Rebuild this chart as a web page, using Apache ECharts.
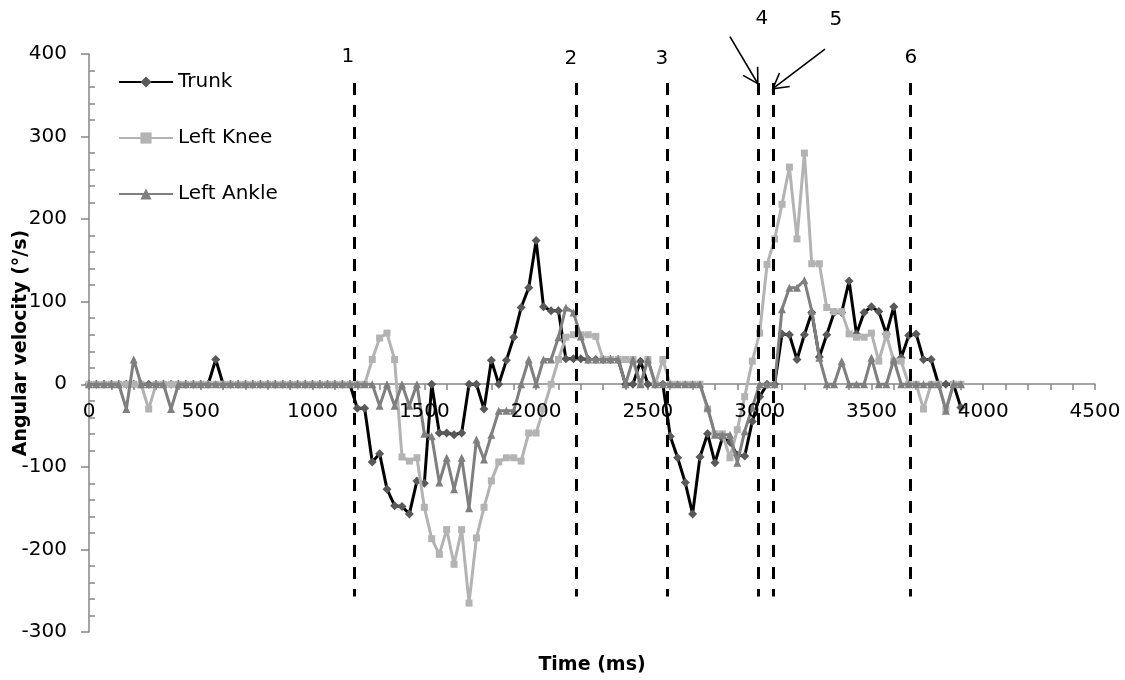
<!DOCTYPE html>
<html>
<head>
<meta charset="utf-8">
<script src="https://cdn.jsdelivr.net/npm/echarts@6/dist/echarts.min.js"></script>
<style>
html,body{margin:0;padding:0;background:#fff;}
#chart{width:1125px;height:680px;}
</style>
</head>
<body>
<div id="chart"></div>
<script>
var times = [0,33,67,100,133,167,200,233,267,300,333,367,400,433,467,500,533,567,600,633,667,700,733,767,800,833,867,900,933,967,1000,1033,1067,1100,1133,1167,1200,1233,1267,1300,1333,1367,1400,1433,1467,1500,1533,1567,1600,1633,1667,1700,1733,1767,1800,1833,1867,1900,1933,1967,2000,2033,2067,2100,2133,2167,2200,2233,2267,2300,2333,2367,2400,2433,2467,2500,2533,2567,2600,2633,2667,2700,2733,2767,2800,2833,2867,2900,2933,2967,3000,3033,3067,3100,3133,3167,3200,3233,3267,3300,3333,3367,3400,3433,3467,3500,3533,3567,3600,3633,3667,3700,3733,3767,3800,3833,3867,3900];

var trunk = [
 0,0,0,0,0,0,0,0,0,0,
 0,0,0,0,0,0,0,30,0,0,
 0,0,0,0,0,0,0,0,0,0,
 0,0,0,0,0,0,-29,-29,-94,-84,
 -127,-147,-148,-157,-117,-120,0,-59,-59,-61,
 -59,0,0,-30,29,0,29,57,93,117,
 174,94,89,89,31,31,31,30,30,30,
 30,30,0,0,28,0,0,0,-63,-89,
 -119,-157,-88,-60,-95,-65,-70,-86,-87,-45,
 -15,0,0,61,60,30,60,87,33,60,
 87,87,125,61,87,94,88,61,94,32,
 59,61,30,30,0,0,0,-28];

var knee = [
 0,0,0,0,0,0,0,0,-30,0,
 0,0,0,0,0,0,0,0,0,0,
 0,0,0,0,0,0,0,0,0,0,
 0,0,0,0,0,0,0,0,30,56,
 62,30,-88,-93,-89,-149,-187,-206,-176,-218,
 -176,-265,-186,-149,-117,-94,-89,-89,-93,-59,
 -59,-30,0,30,57,60,60,60,58,30,
 30,30,30,30,0,30,0,30,0,0,
 0,0,0,-30,-60,-60,-89,-55,-15,28,
 62,145,176,218,263,176,280,146,146,93,
 88,88,61,57,57,62,28,60,28,28,
 0,0,-30,0,0,-30,0,0];

var ankle = [
 0,0,0,0,0,-30,30,0,0,0,
 0,-30,0,0,0,0,0,0,0,0,
 0,0,0,0,0,0,0,0,0,0,
 0,0,0,0,0,0,0,0,0,-26,
 0,-26,0,-26,0,-60,-63,-119,-89,-127,
 -89,-150,-67,-91,-61,-32,-32,-32,0,30,
 0,30,30,57,93,87,58,30,30,30,
 30,30,0,30,0,30,0,0,0,0,
 0,0,0,-28,-61,-61,-61,-95,-57,-28,
 0,0,0,91,117,117,126,89,32,0,
 0,28,0,0,0,32,0,0,30,0,
 0,0,0,0,0,-32,0,0];

var seriesNames = ['Trunk', 'Left Knee', 'Left Ankle'];
var xTicks = [0, 4500, 500];
var yTicks = [-300, 400, 100];
var yMinorStep = 20;

// event markers (ms) and vertical extent of dashed lines (deg/s)
var eventTimes = [1185, 2180, 2586, 2993, 3060, 3672];
var eventLineTop = 365;
var eventLineBottom = -257;
// event labels: [time, value, text]
var eventLabels = [[1158, 397, '1'], [2156, 394, '2'], [2563, 394, '3'], [3010, 443, '4'], [3341, 441, '5'], [3676, 396, '6']];
// arrows: [[t0, v0], [t1, v1]]
var arrows = [[[2867, 421], [2992, 364]], [[3292, 406], [3059, 358]]];

function pairs(vals) {
  return vals.map(function (v, i) { return [times[i], v]; });
}

var yMinorValues = [];
for (var v = yTicks[0]; v <= yTicks[1]; v += yMinorStep) {
  if (v % yTicks[2] !== 0) yMinorValues.push(v);
}

var FONT = 'DejaVu Sans';
var AXIS_GRAY = '#868686';
var chart = echarts.init(document.getElementById('chart'));

var dashed = eventTimes.map(function (t) {
  return [{ coord: [t, eventLineTop] }, { coord: [t, eventLineBottom] }];
});

chart.setOption({
  animation: false,
  backgroundColor: '#ffffff',
  textStyle: { fontFamily: FONT },
  grid: { left: 89, right: 30, top: 54, bottom: 48, containLabel: false, outerBoundsMode: 'none' },
  legend: {
    data: seriesNames,
    orient: 'vertical',
    left: 118,
    top: 72,
    itemWidth: 54,
    itemHeight: 14,
    itemGap: 36,
    padding: 0,
    textStyle: { fontSize: 20, color: '#000', fontFamily: FONT }
  },
  xAxis: {
    type: 'value',
    position: 'bottom',
    offset: -248,
    min: xTicks[0], max: xTicks[1], interval: xTicks[2],
    axisLine: { onZero: false, lineStyle: { color: AXIS_GRAY, width: 1.5 } },
    axisTick: { show: true, length: 6, lineStyle: { color: AXIS_GRAY, width: 1.5 } },
    minorTick: { show: true, splitNumber: 5, length: 6, lineStyle: { color: AXIS_GRAY, width: 1.5 } },
    splitLine: { show: false },
    axisLabel: { show: false },
    name: 'Time (ms)',
    nameLocation: 'middle',
    nameGap: 272,
    nameMoveOverlap: false,
    nameTextStyle: { color: '#000', fontSize: 19, fontWeight: 'bold', fontFamily: FONT }
  },
  yAxis: [{
    type: 'value',
    min: yTicks[0], max: yTicks[1], interval: yTicks[2],
    axisLine: { show: true, lineStyle: { color: AXIS_GRAY, width: 1.5 } },
    axisTick: { show: true, length: 8, lineStyle: { color: AXIS_GRAY, width: 1.5 } },
    splitLine: { show: false },
    axisLabel: { color: '#000', fontSize: 20, margin: 22, fontFamily: FONT },
    name: 'Angular velocity (°/s)',
    nameLocation: 'middle',
    nameGap: 58,
    nameMoveOverlap: false,
    nameTextStyle: { color: '#000', fontSize: 19, fontWeight: 'bold', fontFamily: FONT }
  }, {
    type: 'value',
    min: yTicks[0], max: yTicks[1], interval: yTicks[2],
    position: 'left',
    axisLine: { show: false },
    axisTick: { show: true, inside: true, length: 6, customValues: yMinorValues, lineStyle: { color: AXIS_GRAY, width: 1.5 } },
    splitLine: { show: false },
    axisLabel: { show: false }
  }],
  series: [{
    name: seriesNames[0],
    type: 'line',
    data: pairs(trunk),
    symbol: 'diamond',
    symbolSize: 9,
    showAllSymbol: true,
    lineStyle: { color: '#000000', width: 3 },
    itemStyle: { color: '#595959' },
    z: 2
  }, {
    name: seriesNames[1],
    type: 'line',
    data: pairs(knee),
    symbol: 'rect',
    symbolSize: 7,
    showAllSymbol: true,
    lineStyle: { color: '#b3b3b3', width: 3 },
    itemStyle: { color: '#b3b3b3' },
    z: 3
  }, {
    name: seriesNames[2],
    type: 'line',
    data: pairs(ankle),
    symbol: 'triangle',
    symbolSize: 8,
    showAllSymbol: true,
    lineStyle: { color: '#7f7f7f', width: 3 },
    itemStyle: { color: '#7f7f7f' },
    z: 4
  }, {
    type: 'line',
    silent: true,
    data: [],
    markLine: {
      silent: true,
      symbol: 'none',
      label: { show: false },
      lineStyle: { color: '#000', width: 3, type: [12, 10] },
      emphasis: { disabled: true },
      data: dashed
    },
    z: 5
  }]
});

// x tick labels and annotations placed through the chart's own coordinate conversion
function px(p) { return chart.convertToPixel({ gridIndex: 0 }, p); }
var graphics = [];
for (var t = xTicks[0]; t <= xTicks[1]; t += xTicks[2]) {
  var q = px([t, 0]);
  graphics.push({
    type: 'text', x: q[0], y: q[1] + 28, silent: true, z: 50,
    style: { text: String(t), fill: '#000', font: '20px "' + FONT + '"', textAlign: 'center', textVerticalAlign: 'middle' }
  });
}
eventLabels.forEach(function (e) {
  var p = px([e[0], e[1]]);
  graphics.push({
    type: 'text', x: p[0], y: p[1], silent: true, z: 100,
    style: { text: e[2], fill: '#000', font: '20px "' + FONT + '"', textAlign: 'center', textVerticalAlign: 'middle' }
  });
});
arrows.forEach(function (a) {
  var p0 = px(a[0]), p1 = px(a[1]);
  var ang = Math.atan2(p1[1] - p0[1], p1[0] - p0[0]);
  var L = 17, spread = 0.52;
  var h1 = [p1[0] - L * Math.cos(ang - spread), p1[1] - L * Math.sin(ang - spread)];
  var h2 = [p1[0] - L * Math.cos(ang + spread), p1[1] - L * Math.sin(ang + spread)];
  graphics.push({
    type: 'line', silent: true, z: 100,
    shape: { x1: p0[0], y1: p0[1], x2: p1[0], y2: p1[1] },
    style: { stroke: '#000', lineWidth: 1.6 }
  });
  graphics.push({
    type: 'polyline', silent: true, z: 100,
    shape: { points: [h1, p1, h2] },
    style: { stroke: '#000', lineWidth: 1.6, fill: null }
  });
});
chart.setOption({ graphic: graphics });
</script>
</body>
</html>
